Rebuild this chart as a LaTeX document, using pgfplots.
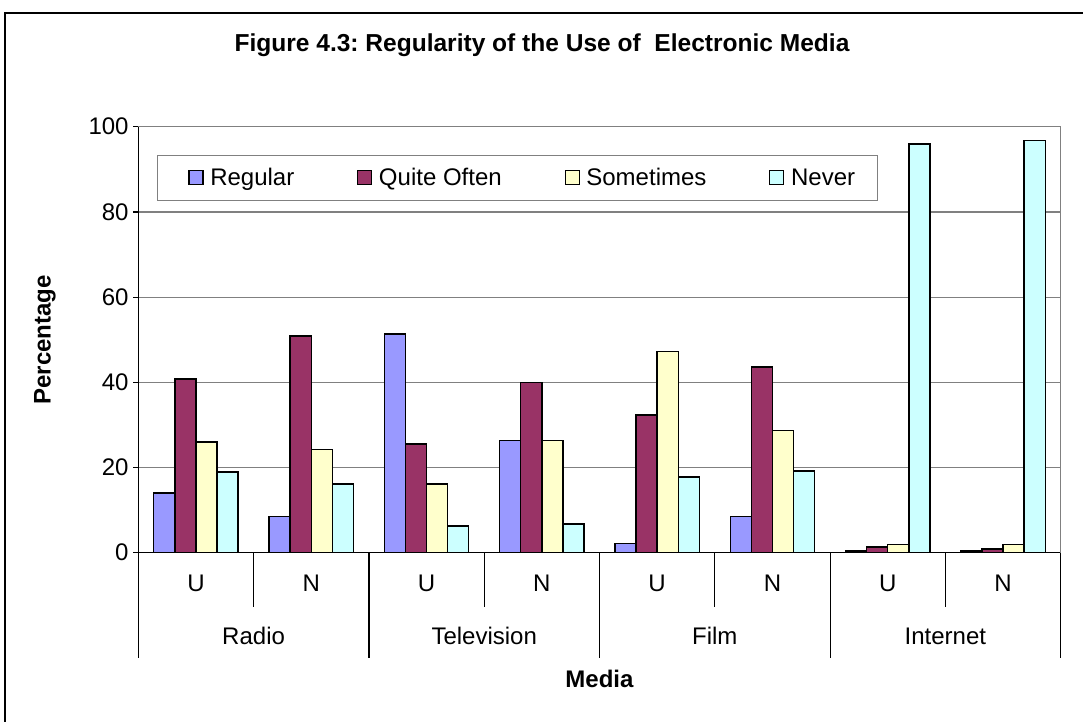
\documentclass[border=0pt]{standalone}
\usepackage{fontspec}
\setmainfont{Liberation Sans}
\usepackage{pgfplots}
\pgfplotsset{compat=1.18}
\definecolor{cReg}{HTML}{9999FF}
\definecolor{cQO}{HTML}{993366}
\definecolor{cSom}{HTML}{FFFFCC}
\definecolor{cNev}{HTML}{CCFFFF}
\definecolor{gridc}{HTML}{808080}
\newcommand\fs{\fontsize{18}{21}\selectfont}
\frenchspacing
\begin{document}
\begin{tikzpicture}
\useasboundingbox (0pt,0pt) rectangle (812.25pt,-541.5pt);
\begin{axis}[
  at={(103.725pt,-414.525pt)}, anchor=south west,
  scale only axis, width=691.8pt, height=319.5pt,
  ybar=0pt, bar width=0.183,
  xmin=-0.5, xmax=7.5, ymin=0, ymax=100,
  xtick=\empty, ytick={0,20,...,100},
  axis x line*=bottom, axis y line*=left,
  axis line style={black, line width=0.9pt, -},
  ymajorgrids, major grid style={gridc, line width=0.9pt},
  tick align=outside, major tick length=3.75pt,
  tick style={black, line width=0.9pt},
  yticklabel style={font=\fs},
  /pgf/number format/assume math mode=true,
  clip=false,
  legend style={at={(0.0203,0.933)}, anchor=north west, draw=gridc, line width=0.9pt,
    font=\fs, legend columns=4, inner xsep=15pt, inner ysep=7.5pt,
    /tikz/every odd column/.append style={column sep=3pt},
    /tikz/every even column/.append style={column sep=37pt}},
  legend image code/.code={\path (-8pt,0pt); \draw[#1, line width=0.9pt] (0pt,-5pt) rectangle (10.5pt,5.5pt);},
  after end axis/.code={
    \draw[gridc, line width=0.9pt] (axis cs:7.5,0) -- (axis cs:7.5,100);
    \foreach \x in {-0.5,1.5,3.5,5.5,7.5}
      \draw[black, line width=0.9pt] (axis cs:\x,0) -- ++(0pt,-79.2pt);
    \foreach \x in {0.5,2.5,4.5,6.5}
      \draw[black, line width=0.9pt] (axis cs:\x,0) -- ++(0pt,-40.5pt);
    \foreach \i/\l in {0/U,1/N,2/U,3/N,4/U,5/N,6/U,7/N}
      \node[font=\fs, anchor=base, inner sep=0pt] at ([yshift=-28.9pt]axis cs:\i,0) {\l};
    \foreach \i/\l in {0.5/Radio,2.5/Television,4.5/Film,6.5/Internet}
      \node[font=\fs, anchor=base, inner sep=0pt] at ([yshift=-69.2pt]axis cs:\i,0) {\l};
  },
]
\addplot[fill=cReg, draw=black, line width=1.1pt] coordinates {(0,14) (1,8.5) (2,51.3) (3,26.4) (4,2.2) (5,8.5) (6,0.4) (7,0.4)};
\addplot[fill=cQO, draw=black, line width=1.1pt] coordinates {(0,40.8) (1,50.9) (2,25.5) (3,40) (4,32.3) (5,43.6) (6,1.3) (7,0.9)};
\addplot[fill=cSom, draw=black, line width=1.1pt] coordinates {(0,26) (1,24.2) (2,16.1) (3,26.4) (4,47.2) (5,28.7) (6,1.9) (7,1.9)};
\addplot[fill=cNev, draw=black, line width=1.1pt] coordinates {(0,18.9) (1,16.1) (2,6.3) (3,6.7) (4,17.8) (5,19.2) (6,95.9) (7,96.7)};
\legend{Regular, Quite Often, Sometimes, Never}
\end{axis}
\begin{scope}[x=0.75pt,y=-0.75pt]
\draw[overlay, black, line width=1.8pt] (5,13) rectangle (1100,740);
\node[font=\fontsize{18.4}{21}\selectfont\bfseries] at (542,45) {Figure 4.3: Regularity of the Use of\ \ Electronic Media};
\node[font=\fs\bfseries, rotate=90] at (45,339.7) {Percentage};
\node[font=\fs\bfseries] at (599.5,679) {Media};
\end{scope}
\end{tikzpicture}
\end{document}
